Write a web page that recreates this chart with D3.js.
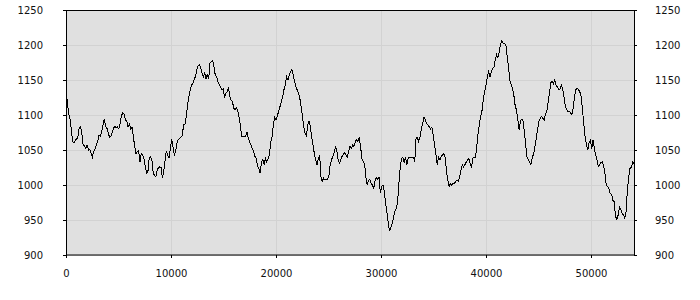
<!DOCTYPE html>
<html>
<head>
<meta charset="utf-8">
<script src="https://cdn.jsdelivr.net/npm/d3@7"></script>
<style>
body { margin: 0; background: #fff; }
.tick text { font-family: "DejaVu Sans", sans-serif; font-size: 10px; fill: #111; }
.tick line { stroke: #000; shape-rendering: crispEdges; }
.grid line { stroke: #d2d2d2; shape-rendering: crispEdges; }
.line { fill: none; stroke: #000; stroke-width: 1; shape-rendering: crispEdges; }
</style>
</head>
<body>
<div class="content"></div>
<script>
var xMax = 54100;
var xTicks = [0, 10000, 20000, 30000, 40000, 50000];
var yTicks = [900, 950, 1000, 1050, 1100, 1150, 1200, 1250];

// values, equally spaced along x
var values = [
  1138, 1119, 1102, 1095, 1079, 1062, 1060, 1064, 1065, 1069, 1081, 1083, 1074, 1057,
  1056, 1052, 1057, 1050, 1051, 1045, 1040, 1048, 1052, 1057, 1062, 1071, 1070, 1076, 1086, 1094,
  1083, 1081, 1074, 1068, 1069, 1076, 1081, 1084, 1082, 1083, 1080, 1088, 1099, 1103, 1101, 1093,
  1091, 1083, 1087, 1080, 1083, 1069, 1055, 1044, 1048, 1049, 1033, 1045, 1043, 1038, 1026, 1017,
  1019, 1038, 1040, 1037, 1017, 1014, 1012, 1021,
  1025, 1026, 1025, 1010, 1019, 1035, 1049, 1043, 1038, 1052, 1065, 1055, 1043, 1048, 1060, 1065,
  1067, 1068, 1070, 1086, 1086, 1097, 1114, 1126, 1136, 1143, 1145, 1151, 1155, 1164, 1170, 1172,
  1167, 1160, 1155, 1160, 1152, 1159, 1151, 1174, 1176, 1178, 1169, 1157, 1155, 1148, 1143, 1140,
  1136, 1137, 1126, 1131, 1133, 1140, 1126, 1121, 1119, 1110, 1107, 1110, 1107, 1097, 1086, 1069,
  1069, 1070, 1069, 1076, 1067, 1062, 1057, 1052,
  1048, 1041, 1038, 1027, 1024, 1017, 1033, 1036, 1029, 1038, 1033, 1038, 1043, 1062, 1069, 1086,
  1097, 1093, 1099, 1105, 1112, 1119, 1126, 1136, 1143, 1155, 1150, 1157, 1162, 1165, 1157, 1148,
  1140, 1136, 1131, 1124, 1112, 1098, 1083, 1074, 1070, 1086, 1091, 1083, 1069, 1057, 1045, 1036,
  1029, 1037, 1043, 1012, 1005, 1010, 1007, 1008, 1008, 1012, 1029, 1036, 1041, 1046, 1054, 1050,
  1036, 1031, 1036, 1041, 1044, 1046, 1043,
  1040, 1048, 1055, 1052, 1057, 1055, 1062, 1065, 1062, 1068, 1055, 1038, 1033, 1031, 1012, 1000,
  1007, 1008, 1002, 1000, 995, 1007, 1010, 1008, 1011, 988, 998, 1000, 990, 974, 960, 945,
  934, 940, 946, 954, 962, 967, 974, 1002, 1024, 1038, 1040, 1032, 1040, 1029, 1038, 1040,
  1040, 1040, 1040, 1033, 1067, 1068, 1062, 1069, 1079, 1088, 1097, 1093, 1088, 1086, 1083, 1080,
  1083, 1071, 1057, 1045, 1029, 1040, 1036,
  1040, 1043, 1045, 1040, 1021, 1007, 998, 1002, 1000, 1002, 1002, 1005, 1007, 1005, 1012, 1021,
  1029, 1026, 1029, 1033, 1036, 1038, 1031, 1026, 1038, 1040, 1039, 1055, 1074, 1088, 1098, 1107,
  1124, 1133, 1143, 1155, 1162, 1155, 1162, 1167, 1168, 1179, 1186, 1182, 1190, 1202, 1206, 1202,
  1202, 1200, 1183, 1169, 1150, 1143, 1138, 1129, 1114, 1107, 1095, 1079, 1091, 1094, 1091, 1076,
  1057, 1040, 1036, 1033, 1029, 1040, 1044,
  1055, 1067, 1079, 1091, 1095, 1098, 1095, 1093, 1102, 1105, 1119, 1131, 1146, 1148, 1145, 1150,
  1143, 1140, 1137, 1137, 1143, 1138, 1126, 1113, 1108, 1105, 1105, 1103, 1101, 1110, 1126, 1136,
  1138, 1136, 1133, 1126, 1107, 1088, 1069, 1057, 1050, 1060, 1064, 1052, 1064, 1052, 1043, 1036,
  1026, 1029, 1032, 1033, 1027, 1017, 1000, 998, 995, 988, 987, 978, 976, 955, 951, 957,
  969, 965, 960, 957, 953, 962, 993, 1012, 1024, 1025, 1033, 1031
];

var fullWidth = 700, fullHeight = 300;
var margin = {top: 10, right: 66, bottom: 45, left: 66};
var width = fullWidth - margin.left - margin.right;
var height = fullHeight - margin.top - margin.bottom;

var step = xMax / (values.length - 1);
var plotData = values.map(function(v, i){ return {x: i * step, y: v}; });

var x = d3.scaleLinear().domain([0, xMax]).range([0, width]);
var y = d3.scaleLinear().domain([900, 1250]).range([height, 0]);

var svg = d3.select("div.content").append("svg")
    .attr("width", fullWidth)
    .attr("height", fullHeight)
  .append("g")
    .attr("transform", "translate(" + margin.left + "," + margin.top + ")");

// background
svg.append("rect")
    .attr("width", width)
    .attr("height", height)
    .style("fill", "#e0e0e0");

// grid
svg.append("g")
    .attr("class", "grid")
    .attr("transform", "translate(0," + height + ")")
    .call(d3.axisBottom(x).tickValues(xTicks).tickSize(-height).tickFormat(""))
    .call(function(g){ g.select(".domain").remove(); });
svg.append("g")
    .attr("class", "grid")
    .call(d3.axisLeft(y).tickValues(yTicks).tickSize(-width).tickFormat(""))
    .call(function(g){ g.select(".domain").remove(); });

// line
var valueLine = d3.line().x(function(d){ return x(d.x); }).y(function(d){ return y(d.y); });
svg.append("path")
    .data([plotData])
    .attr("class", "line")
    .attr("d", valueLine);

// axes
svg.append("g")
    .attr("class", "x-axis")
    .attr("transform", "translate(0," + height + ")")
    .call(d3.axisBottom(x).tickValues(xTicks).tickSize(3).tickPadding(12).tickFormat(d3.format("d")))
    .call(function(g){ g.select(".domain").remove(); });
svg.append("g")
    .attr("class", "y-axis")
    .call(d3.axisLeft(y).tickValues(yTicks).tickSize(3).tickPadding(20).tickFormat(d3.format("d")))
    .call(function(g){ g.select(".domain").remove(); });
svg.append("g")
    .attr("class", "y-axis-right")
    .attr("transform", "translate(" + width + ",0)")
    .call(d3.axisRight(y).tickValues(yTicks).tickSize(3).tickPadding(18).tickFormat(d3.format("d")))
    .call(function(g){ g.select(".domain").remove(); });

// frame
svg.append("rect")
    .attr("x", 0.5)
    .attr("y", 0.5)
    .attr("width", width)
    .attr("height", height - 0.5)
    .style("fill", "none")
    .style("stroke", "#000")
    .style("stroke-width", 1);
</script>
</body>
</html>
